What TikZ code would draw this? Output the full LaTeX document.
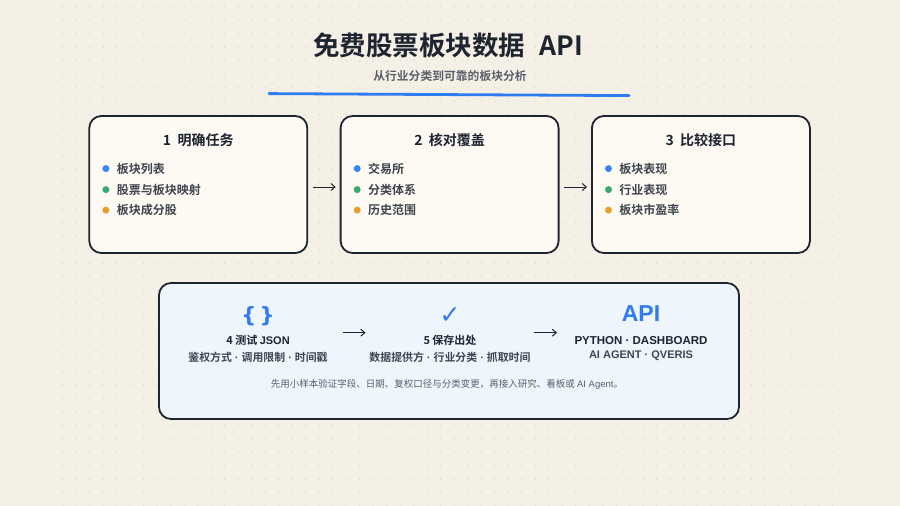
\documentclass[tikz,border=0pt]{standalone}
\usepackage{fontspec}
\setmainfont{Noto Sans CJK SC}[BoldFont={* Bold}]
\newfontfamily\symfont{DejaVu Sans}
\newfontfamily\latinfont{Liberation Sans}
\newcommand{\mdot}{{\latinfont\ ·\ }}
\usetikzlibrary{arrows.meta,positioning}
\definecolor{paper}{HTML}{F5F0E6}
\definecolor{griddot}{HTML}{DDD6C8}
\definecolor{ink}{HTML}{1E2430}
\definecolor{muted}{HTML}{5A606B}
\definecolor{cardbg}{HTML}{FDFAF3}
\definecolor{panelbg}{HTML}{EEF5FD}
\definecolor{accent}{HTML}{2F7BF0}
\definecolor{dotblue}{HTML}{3B82F6}
\definecolor{dotgreen}{HTML}{3AAA6F}
\definecolor{dotamber}{HTML}{E3A12C}

\begin{document}
\begin{tikzpicture}[x=1pt,y=-1pt,
  node distance=31.5pt,
  card/.style={draw=ink,line width=1.8pt,rounded corners=12pt,fill=cardbg,
    minimum width=218pt,minimum height=137pt},
  panel/.style={card,fill=panelbg,minimum width=580pt,minimum height=136pt},
  cardtitle/.style={font=\bfseries\fontsize{14}{16}\selectfont,text=ink,inner sep=0pt},
  dot/.style={circle,inner sep=0pt,minimum size=7pt},
  item/.style={font=\bfseries\fontsize{12}{14}\selectfont,text=ink!85,inner sep=0pt,anchor=west},
  icon/.style={font=\symfont\bfseries\fontsize{21}{24}\selectfont,text=accent,inner sep=0pt},
  head/.style={font=\bfseries\fontsize{11}{13}\selectfont,text=ink,inner sep=0pt},
  sub/.style={font=\bfseries\fontsize{10.9}{13}\selectfont,text=ink!85,inner sep=0pt},
  flow/.style={-{Straight Barb[length=4pt,width=7pt]},line width=1pt,draw=ink}
]
\useasboundingbox (0,0) rectangle (900,506);
\fill[paper] (0,0) rectangle (900,506);
% dotted grid
\foreach \i in {0,...,57}
  \foreach \j in {0,...,37}
    \fill[griddot] (62.7+13.5*\i,6.7+13.5*\j) circle (0.75pt);

% heading
\node[font=\bfseries\fontsize{26.5}{30}\selectfont,text=ink] (title) at (448,45) {免费股票板块数据\hspace{0.55em}API};
\node[font=\bfseries\fontsize{11.8}{13}\selectfont,text=muted] (subtitle) at (450,76) {从行业分类到可靠的板块分析};
\draw[accent,line width=2.8pt,line cap=round] (269,93.6) -- (629,95.6);

% three cards
\node[card] (c1) at (198.3,184.5) {};
\node[card,right=of c1] (c2) {};
\node[card,right=of c2] (c3) {};
\node[cardtitle] (t1) at ([yshift=-25pt]c1.north) {1\ \ 明确任务};
\node[cardtitle] (t2) at ([yshift=-25pt]c2.north) {2\ \ 核对覆盖};
\node[cardtitle] (t3) at ([yshift=-25pt]c3.north) {3\ \ 比较接口};
\foreach \c/\a/\b/\d in {c1/板块列表/股票与板块映射/板块成分股,
    c2/交易所/分类体系/历史范围, c3/板块表现/行业表现/板块市盈率}{
  \node[dot,fill=dotblue] (\c-d1) at ([xshift=17.5pt,yshift=-53.5pt]\c.north west) {};
  \node[dot,fill=dotgreen] (\c-d2) at ([xshift=17.5pt,yshift=-74.5pt]\c.north west) {};
  \node[dot,fill=dotamber] (\c-d3) at ([xshift=17.5pt,yshift=-95pt]\c.north west) {};
  \node[item,right=7pt of \c-d1] (\c-i1) {\a};
  \node[item,right=7pt of \c-d2] (\c-i2) {\b};
  \node[item,right=7pt of \c-d3] (\c-i3) {\d};
}
\draw[flow] ([xshift=4.5pt,yshift=-2.5pt]c1.east) -- ([xshift=-4pt,yshift=-2.5pt]c2.west);
\draw[flow] ([xshift=4.5pt,yshift=-2.5pt]c2.east) -- ([xshift=-4pt,yshift=-2.5pt]c3.west);

% bottom panel
\node[panel] (p) at (449,351) {};
\node[head] (h4) at (258,340.7) {4 测试 {\latinfont JSON}};
\node[head] (h5) at (450,340.7) {5 保存出处};
\node[head,font=\latinfont\bfseries\fontsize{11.5}{13}\selectfont] (h6) at (641,340.7) {PYTHON · DASHBOARD};
\node[icon,above=9pt of h4] (i4) {\{\,\}};
\node[icon,above=12pt of h5,font=\symfont\fontsize{25}{28}\selectfont] (i5) {✓};
\node[icon,above=15pt of h6,font=\latinfont\bfseries\fontsize{23}{26}\selectfont] (i6) {API};
\node[sub,below=6pt of h4] (s4) {鉴权方式\mdot 调用限制\mdot 时间戳};
\node[sub,below=6pt of h5] (s5) {数据提供方\mdot 行业分类\mdot 抓取时间};
\node[sub,below=6pt of h6,font=\latinfont\bfseries\fontsize{11}{13}\selectfont] (s6) {AI AGENT · QVERIS};
\path (h4.center) -- (h5.center) coordinate[pos=0.5] (m45);
\path (h5.center) -- (h6.center) coordinate[pos=0.5] (m56);
\draw[flow] ([xshift=-11.5pt,yshift=8pt]m45) -- ([xshift=11.5pt,yshift=8pt]m45);
\draw[flow] ([xshift=-11.5pt,yshift=8pt]m56) -- ([xshift=11.5pt,yshift=8pt]m56);
\node[font=\fontsize{9.5}{12}\selectfont,text=muted,inner sep=0pt] (note) at (447,384.3)
  {先用小样本验证字段、日期、复权口径与分类变更，再接入研究、看板或 {\latinfont AI Agent}。};
\end{tikzpicture}
\end{document}
